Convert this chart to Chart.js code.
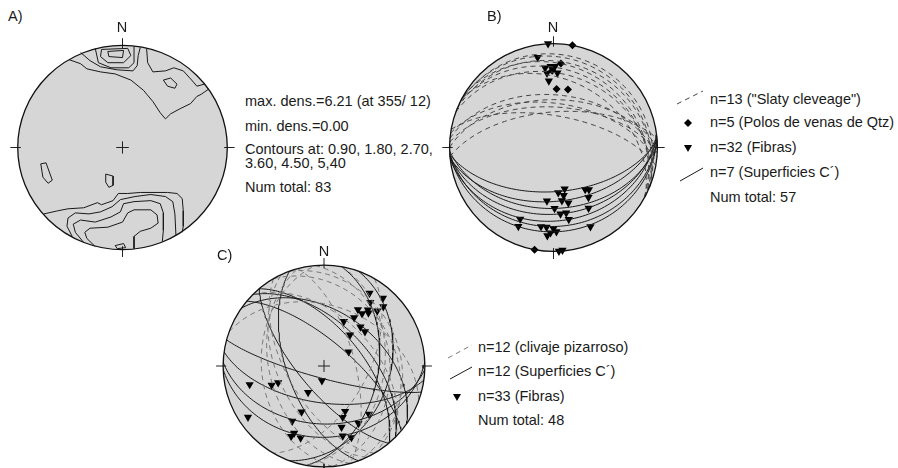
<!DOCTYPE html>
<html><head><meta charset="utf-8">
<script src="https://cdn.jsdelivr.net/npm/chart.js@4.4.1/dist/chart.umd.min.js"></script>
<style>
html,body{margin:0;padding:0;background:#fff;}
#wrap{position:relative;width:898px;height:468px;overflow:hidden;font-family:"Liberation Sans",Arial,sans-serif;color:#1a1a1a;}
.t{position:absolute;font-size:14.5px;white-space:nowrap;line-height:1;}
.c{transform:translateX(-50%);}
canvas{position:absolute;}
svg{position:absolute;left:0;top:0;}
</style></head><body><div id="wrap">
<canvas id="netA"></canvas><canvas id="netB"></canvas><canvas id="netC"></canvas>
<div class="t" style="left:8px;top:9px">A)</div>
<div class="t c" style="left:122px;top:20px">N</div>
<div class="t" style="left:245px;top:94px">max. dens.=6.21 (at 355/ 12)</div>
<div class="t" style="left:245px;top:119px">min. dens.=0.00</div>
<div class="t" style="left:245px;top:142px">Contours at: 0.90, 1.80, 2.70,</div>
<div class="t" style="left:245px;top:156px">3.60, 4.50, 5,40</div>
<div class="t" style="left:245px;top:180px">Num total: 83</div>
<div class="t" style="left:487px;top:9px">B)</div>
<div class="t c" style="left:553px;top:20px">N</div>
<div class="t" style="left:710px;top:92px">n=13 ("Slaty cleveage")</div>
<div class="t" style="left:710px;top:115px">n=5 (Polos de venas de Qtz)</div>
<div class="t" style="left:710px;top:140px">n=32 (Fibras)</div>
<div class="t" style="left:710px;top:165px">n=7 (Superficies C´)</div>
<div class="t" style="left:710px;top:190px">Num total: 57</div>
<div class="t" style="left:217px;top:248px">C)</div>
<div class="t c" style="left:324px;top:244px">N</div>
<div class="t" style="left:478px;top:340px">n=12 (clivaje pizarroso)</div>
<div class="t" style="left:478px;top:364px">n=12 (Superficies C´)</div>
<div class="t" style="left:478px;top:389px">n=33 (Fibras)</div>
<div class="t" style="left:478px;top:413px">Num total: 48</div>
<svg width="898" height="468">
<line x1="677" y1="104" x2="703" y2="91" stroke="#444" stroke-width="1" stroke-dasharray="5,4"/>
<polygon points="688,119 692,123 688,127 684,123" fill="#000"/>
<polygon points="684,145 692,145 688,152" fill="#000"/>
<line x1="680" y1="181" x2="703" y2="168" stroke="#1a1a1a" stroke-width="1"/>
<line x1="448" y1="358" x2="472" y2="345" stroke="#777" stroke-width="1" stroke-dasharray="5,4"/>
<line x1="450" y1="379" x2="472" y2="367" stroke="#1a1a1a" stroke-width="1"/>
<polygon points="453,394 461,394 457,401" fill="#000"/>
</svg>
</div>
<script>
// ---------- DATA ----------
// A) density contours of poles, vertices in % of net radius (x = East, y = North)
const contourA_N1 = [[-51,86],[-40,82],[-34,77],[-21,74],[-7,72],[8,66],[20,56],[29,45],[36,34],[41,28],[46,33],[55,38],[65,43],[71,50],[75,52],[82,57]];
const contourA_N2 = [[-40,93],[-31,85],[-21,79],[-5,76],[10,75],[14,80],[15,90],[17,98]];
const contourA_N2b = [[23,97],[24,83],[29,74],[41,75],[49,78],[58,75],[66,66],[71,60],[78,62]];
const contourA_N3 = [[-26,97],[-23,83],[-11,78],[6,78],[11,83],[11,99]];
const contourA_N4 = [[-20,96],[5,97],[8,90],[1,83],[-14,83],[-21,89],[-20,96]];
const contourA_N5 = [[-14,94],[1,95],[0,88],[-13,89],[-14,94]];
const contourA_NE = [[39,66],[46,68],[52,62],[50,58],[43,60],[39,66]];
const contourA_S1 = [[-75,-65],[-62,-62],[-52,-60],[-37,-59],[-24,-54],[-20,-56],[-9,-52],[-4,-45],[5,-45],[17,-44],[33,-44],[43,-44],[52,-45],[57,-50],[58,-62],[58,-77],[57,-83]];
const contourA_S2 = [[-48,-87],[-53,-77],[-52,-69],[-45,-64],[-32,-65],[-21,-63],[-10,-58],[-2,-51],[12,-48],[27,-46],[41,-48],[48,-53],[50,-65],[51,-86]];
const contourA_S3 = [[-37,-93],[-45,-83],[-47,-75],[-40,-71],[-26,-73],[-11,-68],[-2,-63],[1,-55],[11,-53],[27,-52],[36,-55],[39,-64],[39,-81],[38,-92]];
const contourA_S4 = [[-26,-97],[-34,-89],[-36,-83],[-31,-79],[-14,-78],[0,-73],[5,-64],[11,-61],[27,-61],[33,-66],[34,-74],[27,-79],[17,-82],[11,-87],[11,-99]];
const contourA_S5 = [[-7,-96],[1,-94],[3,-98],[-5,-99],[-7,-96]];
const contourA_W = [[-78,-16],[-73,-15],[-67,-32],[-71,-35],[-76,-29],[-78,-16]];
const contourA_C = [[-16,-26],[-9,-28],[-9,-37],[-13,-39],[-16,-34],[-16,-26]];

// B) planes (dip direction / dip) and lineations (trend / plunge)
const B_slaty_dipdir = [25, 28, 22, 30, 26, 20, 28, 5, 0, 8, 3, 355, 10];
const B_slaty_dip    = [12, 15, 19, 22, 26, 30, 35, 48, 52, 55, 58, 62, 65];
const B_C_dipdir = [176, 174, 178, 175, 173, 177, 176];
const B_C_dip    = [55, 47, 41, 36, 30, 25, 20];
const B_qtz_trend  = [10.5, 5, 359, 3, 14];
const B_qtz_plunge = [0, 20, 27, 43, 42];
const B_fib_trend  = [357,350,354,1,355,3,356,174,165,168,140,145,187,165,179,150,174,169,168,205,204,189,185,180,178,184,155,175,358,171,182,143];
const B_fib_plunge = [0,13,24,23,29,29,36,54,56,51,46,41,47,44,41,33,36,36,30,25,18,24,24,23,20,16,17,1,23,47,19,48];

// C)
const C_cliv_dipdir = [70, 60, 85, 100, 45, 120, 255, 245, 265, 20, 75, 240];
const C_cliv_dip    = [25, 30, 35, 40, 50, 55, 45, 52, 38, 40, 65, 60];
const C_C_dipdir = [35, 45, 50, 40, 195, 188, 182, 178, 110, 100, 250, 230];
const C_C_dip    = [45, 55, 60, 70, 80, 60, 42, 30, 35, 45, 60, 70];
const C_fib_trend  = [32,41,36,45,31,44,36,40,32,24,43,50,40,60,188,256,250,250,211,206,155,160,137,236,210,149,164,204,205,198,165,159,38];
const C_fib_plunge = [16,12,23,18,35,25,36,32,43,50,46,46,57,67,78,25,44,50,65,48,49,45,35,10,37,34,37,28,24,26,29,25,30];

// ---------- PROJECTION (equal-area, lower hemisphere) ----------
const deg = Math.PI/180;
function proj(E,N,D){const k=Math.sqrt(1/(1+D));return {x:E*k,y:N*k};}
function linePoint(t,p){return proj(Math.cos(p*deg)*Math.sin(t*deg),Math.cos(p*deg)*Math.cos(t*deg),Math.sin(p*deg));}
function linePoints(trends,plunges){const out=[];trends.forEach((t,i)=>{const p=plunges[i];out.push(linePoint(t,p));if(p===0)out.push(linePoint(t+180,0));});return out;}
function planeArc(dd,dip){
  const s=(dd-90)*deg,d=dd*deg,q=dip*deg;
  const S=[Math.sin(s),Math.cos(s),0];
  const V=[Math.cos(q)*Math.sin(d),Math.cos(q)*Math.cos(d),Math.sin(q)];
  const pts=[];
  for(let a=0;a<=180;a+=2){const c=Math.cos(a*deg),n=Math.sin(a*deg);
    pts.push(proj(c*S[0]+n*V[0],c*S[1]+n*V[1],Math.max(0,c*S[2]+n*V[2])));}
  return pts;
}
function pct(arr){return arr.map(p=>({x:p[0]/100,y:p[1]/100}));}

function lineDS(pts,color,width,dash){return {data:pts,showLine:true,borderColor:color,borderWidth:width,borderDash:dash||[],pointRadius:0,pointHoverRadius:0,fill:false,tension:0,clip:false};}
function pointDS(pts,style,radius,rot){return {data:pts,showLine:false,pointStyle:style,pointRadius:radius,pointHoverRadius:radius,pointRotation:rot||0,backgroundColor:'#000',borderColor:'#000',borderWidth:0,clip:false};}
function frameDS(cross){
  const ds=[];
  const segs=[[0,0.97,0,1.07],[0,-0.97,0,-1.07],[0.97,0,1.07,0],[-0.97,0,-1.07,0]];
  if(cross){segs.push([-0.06,0,0.06,0],[0,-0.06,0,0.06]);}
  segs.forEach(s=>ds.push(lineDS([{x:s[0],y:s[1]},{x:s[2],y:s[3]}],'#222',1)));
  return ds;
}
const FILL='#d6d6d6';
const primitive={id:'primitive',
  beforeDatasetsDraw(chart){const {ctx,scales:{x,y}}=chart;const cx=x.getPixelForValue(0),cy=y.getPixelForValue(0);
    const rx=x.getPixelForValue(1)-cx, ry=cy-y.getPixelForValue(1);
    ctx.save();ctx.beginPath();ctx.ellipse(cx,cy,rx,ry,0,0,2*Math.PI);ctx.fillStyle=FILL;ctx.fill();ctx.restore();},
  afterDatasetsDraw(chart){const {ctx,scales:{x,y}}=chart;const cx=x.getPixelForValue(0),cy=y.getPixelForValue(0);
    const rx=x.getPixelForValue(1)-cx, ry=cy-y.getPixelForValue(1);
    ctx.save();ctx.beginPath();ctx.ellipse(cx,cy,rx,ry,0,0,2*Math.PI);ctx.lineWidth=1.3;ctx.strokeStyle='#111';ctx.stroke();ctx.restore();}
};
function makeNet(id,cx,cy,rx,ry,datasets){
  const c=document.getElementById(id);
  const W=Math.round(2.3*rx),H=Math.round(2.3*ry);
  c.width=W;c.height=H;c.style.width=W+'px';c.style.height=H+'px';
  c.style.left=(cx-W/2)+'px';c.style.top=(cy-H/2)+'px';
  new Chart(c,{type:'scatter',data:{datasets},plugins:[primitive],
    options:{responsive:false,animation:false,events:[],
      layout:{padding:0,autoPadding:false},
      plugins:{legend:{display:false},tooltip:{enabled:false}},
      scales:{x:{type:'linear',min:-1.15,max:1.15,display:false},y:{type:'linear',min:-1.15,max:1.15,display:false}}}});
}

// ---------- A ----------
const dsA=[];
[contourA_N1,contourA_N2,contourA_N2b,contourA_N3,contourA_N4,contourA_N5,contourA_NE,
 contourA_S1,contourA_S2,contourA_S3,contourA_S4,contourA_S5,contourA_W,contourA_C]
 .forEach(c=>dsA.push(lineDS(pct(c),'#1a1a1a',1)));
makeNet('netA',122,147,105,102,dsA.concat(frameDS(true)));

// ---------- B ----------
const dsB=[];
B_slaty_dipdir.forEach((d,i)=>dsB.push(lineDS(planeArc(d,B_slaty_dip[i]),'#444',1,[5,4])));
B_C_dipdir.forEach((d,i)=>dsB.push(lineDS(planeArc(d,B_C_dip[i]),'#1a1a1a',1)));
dsB.push(pointDS(linePoints(B_fib_trend,B_fib_plunge),'triangle',4.8,180));
dsB.push(pointDS(linePoints(B_qtz_trend,B_qtz_plunge),'rectRot',4));
makeNet('netB',553,147,104,104,dsB.concat(frameDS(false)));

// ---------- C ----------
const dsC=[];
C_cliv_dipdir.forEach((d,i)=>dsC.push(lineDS(planeArc(d,C_cliv_dip[i]),'#777',1,[5,4])));
C_C_dipdir.forEach((d,i)=>dsC.push(lineDS(planeArc(d,C_C_dip[i]),'#1a1a1a',1)));
dsC.push(pointDS(linePoints(C_fib_trend,C_fib_plunge),'triangle',4.8,180));
makeNet('netC',324,366,101,101,dsC.concat(frameDS(true)));
</script>
</body></html>
